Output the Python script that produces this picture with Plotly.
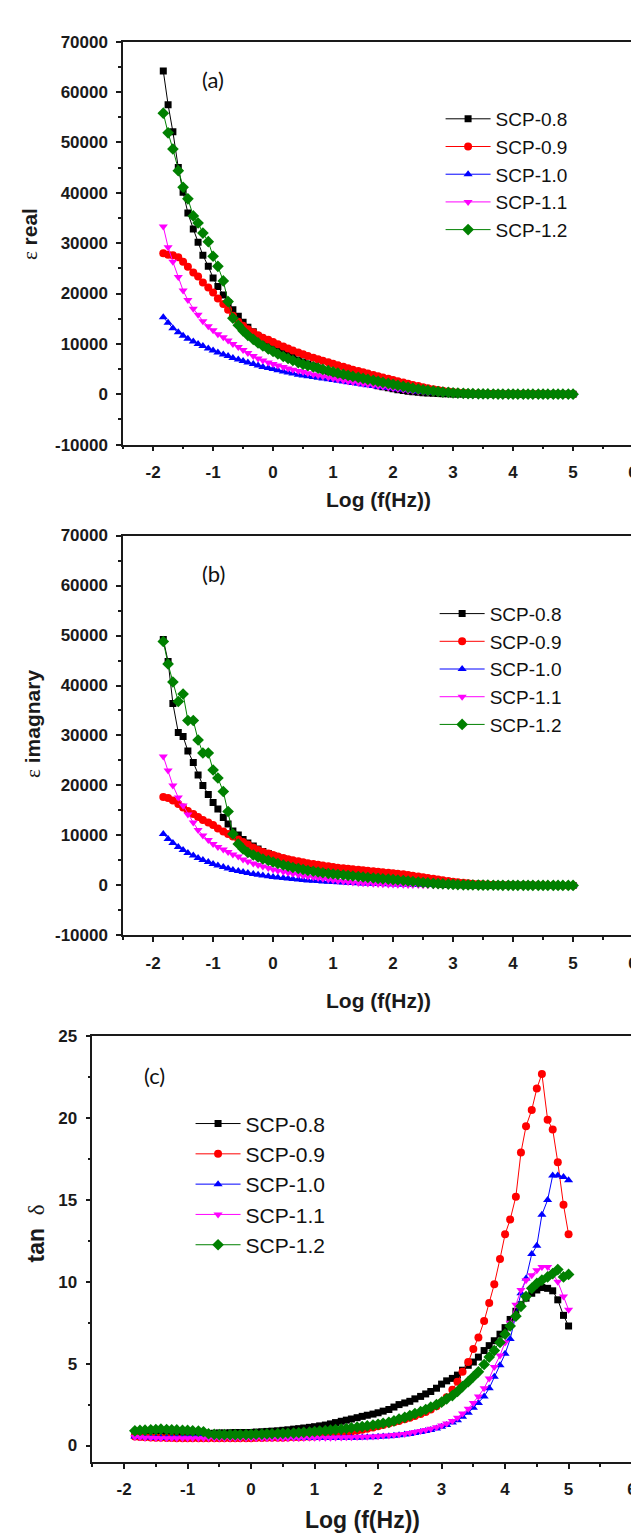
import plotly.graph_objects as go

# ---------------- data ----------------
log_f = [-1.83, -1.75, -1.67, -1.58, -1.50, -1.42, -1.33, -1.25, -1.17, -1.08, -1.00, -0.92, -0.83,
         -0.75, -0.67, -0.58, -0.50, -0.42, -0.33, -0.25, -0.17, -0.08,
         0.00, 0.08, 0.17, 0.25, 0.33, 0.42, 0.50, 0.58, 0.67, 0.75, 0.83, 0.92,
         1.00, 1.08, 1.17, 1.25, 1.33, 1.42, 1.50, 1.58, 1.67, 1.75, 1.83, 1.92,
         2.00, 2.08, 2.17, 2.25, 2.33, 2.42, 2.50, 2.58, 2.67, 2.75, 2.83, 2.92,
         3.00, 3.08, 3.17, 3.25, 3.33, 3.42, 3.50, 3.58, 3.67, 3.75, 3.83, 3.92,
         4.00, 4.08, 4.17, 4.25, 4.33, 4.42, 4.50, 4.58, 4.67, 4.75, 4.83, 4.92, 5.00]

series_names = ["SCP-0.8", "SCP-0.9", "SCP-1.0", "SCP-1.1", "SCP-1.2"]

# (a) real permittivity
eps_real_08 = [64200, 57500, 52100, 45000, 40100, 36000, 32800, 30200, 27600, 25400, 23100, 21400, 19700,
               18200, 16800, 15500, 14300, 13300, 12400, 11500, 10800, 10100,
               9500, 8900, 8300, 7800, 7300, 6800, 6400, 6000, 5600, 5200, 4800, 4500,
               4200, 3900, 3600, 3300, 3000, 2700, 2450, 2200, 1950, 1700, 1500, 1300,
               1100, 900, 750, 600, 480, 380, 300, 230, 180, 140, 110, 90,
               70, 60, 55, 50, 45, 40, 38, 35, 32, 30, 28, 26,
               24, 22, 20, 19, 18, 17, 16, 15, 14, 13, 12, 11, 10]
eps_real_09 = [28000, 27700, 27600, 27200, 26300, 25300, 24200, 23400, 22200, 21200, 20200, 19000, 17900,
               16800, 15600, 14400, 13600, 12900, 12300, 11700, 11200, 10800,
               10400, 9950, 9500, 9100, 8700, 8300, 7950, 7600, 7250, 6950, 6650, 6350,
               6050, 5750, 5450, 5150, 4850, 4600, 4350, 4100, 3850, 3600, 3350, 3100,
               2850, 2600, 2350, 2100, 1850, 1620, 1400, 1200, 1000, 830, 680, 550,
               440, 350, 280, 220, 175, 140, 115, 95, 85, 75, 68, 62,
               56, 50, 46, 42, 38, 35, 32, 29, 26, 24, 22, 20, 18]
eps_real_10 = [15300, 14200, 13100, 12300, 11600, 11000, 10500, 10000, 9600, 9100, 8700, 8300, 7900,
               7600, 7200, 6900, 6600, 6300, 6000, 5700, 5400, 5200,
               5000, 4750, 4500, 4300, 4100, 3900, 3750, 3600, 3450, 3300, 3150, 3000,
               2850, 2700, 2550, 2400, 2250, 2100, 1950, 1800, 1650, 1500, 1380, 1260,
               1140, 1020, 900, 780, 670, 570, 480, 400, 330, 270, 220, 180,
               145, 115, 95, 80, 65, 55, 48, 42, 38, 34, 30, 27,
               24, 22, 20, 18, 16, 15, 14, 13, 12, 11, 10, 9, 8]
eps_real_11 = [33300, 29200, 26300, 23300, 20600, 18700, 17000, 15800, 14500, 13500, 12700, 11900, 11300,
               10700, 10000, 9400, 8800, 8200, 7600, 7100, 6700, 6300,
               6000, 5700, 5400, 5100, 4850, 4600, 4400, 4150, 3950, 3750, 3550, 3350,
               3150, 2950, 2750, 2550, 2400, 2250, 2100, 1950, 1800, 1650, 1500, 1350,
               1200, 1050, 900, 770, 650, 540, 440, 350, 280, 220, 170, 130,
               100, 80, 65, 55, 47, 41, 36, 32, 28, 25, 22, 20,
               18, 16, 15, 14, 13, 12, 11, 10, 9, 9, 8, 8, 7]
eps_real_12 = [55800, 51900, 48700, 44400, 41100, 38800, 35400, 34000, 32000, 30300, 27400, 25400, 22500,
               18400, 15100, 13700, 12600, 11700, 10900, 10200, 9600, 9000,
               8500, 8000, 7500, 7100, 6700, 6300, 5950, 5700, 5450, 5200, 4950, 4700,
               4450, 4200, 3950, 3750, 3550, 3350, 3150, 2950, 2750, 2550, 2350, 2150,
               1950, 1750, 1560, 1380, 1210, 1050, 900, 770, 650, 540, 440, 360,
               290, 230, 180, 140, 110, 90, 75, 62, 52, 45, 40, 35,
               31, 28, 25, 22, 20, 18, 16, 15, 14, 13, 12, 11, 10]

# (b) imaginary permittivity
eps_imag_08 = [49200, 44800, 36400, 30600, 29800, 26900, 24600, 22100, 20000, 18200, 16600, 15300, 13600,
               12300, 10900, 10100, 9200, 8500, 7900, 7300, 6800, 6400,
               6000, 5650, 5350, 5050, 4800, 4550, 4300, 4100, 3900, 3700, 3520, 3350,
               3200, 3050, 2900, 2750, 2600, 2450, 2300, 2150, 2000, 1850, 1700, 1550,
               1400, 1250, 1100, 950, 820, 700, 590, 490, 400, 330, 270, 220,
               180, 150, 125, 105, 90, 78, 68, 60, 53, 47, 42, 38,
               34, 31, 28, 25, 23, 21, 19, 17, 16, 15, 14, 13, 12]
eps_imag_09 = [17700, 17500, 17000, 16300, 15600, 14900, 14300, 13700, 13100, 12600, 12100, 11400, 10800,
               10300, 9800, 9200, 8700, 8200, 7600, 7100, 6700, 6400,
               6100, 5800, 5500, 5250, 5050, 4850, 4650, 4450, 4300, 4150, 4000, 3850,
               3700, 3550, 3450, 3350, 3250, 3150, 3050, 2950, 2850, 2750, 2650, 2550,
               2450, 2350, 2250, 2100, 1950, 1800, 1650, 1500, 1350, 1200, 1050, 900,
               770, 650, 540, 450, 370, 300, 240, 190, 150, 120, 100, 85,
               72, 62, 54, 47, 41, 36, 32, 28, 25, 22, 20, 18, 16]
eps_imag_10 = [10300, 9300, 8500, 7700, 7100, 6500, 6000, 5500, 5100, 4700, 4300, 4000, 3700,
               3400, 3100, 2900, 2700, 2500, 2300, 2150, 2000, 1850,
               1700, 1600, 1500, 1400, 1300, 1200, 1100, 1020, 950, 880, 820, 760,
               700, 650, 600, 550, 500, 460, 420, 380, 350, 320, 290, 260,
               240, 220, 200, 180, 160, 140, 125, 110, 100, 90, 80, 72,
               65, 58, 52, 47, 42, 38, 34, 31, 28, 25, 23, 21,
               19, 17, 16, 15, 14, 13, 12, 11, 10, 9, 9, 8, 8]
eps_imag_11 = [25800, 23000, 20000, 17600, 16000, 14200, 12600, 11100, 10000, 9100, 8300, 7700, 7200,
               6700, 6200, 5800, 5200, 4800, 4400, 4100, 3800, 3500,
               3200, 2950, 2750, 2550, 2350, 2150, 1950, 1800, 1650, 1500, 1350, 1200,
               1050, 920, 800, 700, 600, 520, 450, 390, 340, 290, 250, 210,
               180, 150, 130, 110, 95, 82, 70, 60, 52, 45, 40, 35,
               31, 28, 25, 22, 20, 18, 16, 14, 13, 12, 11, 10,
               9, 9, 8, 8, 7, 7, 6, 6, 6, 5, 5, 5, 5]
eps_imag_12 = [48800, 44300, 40700, 36800, 38300, 33000, 33000, 29100, 26500, 26500, 23100, 21500, 18800,
               14800, 10300, 8300, 7300, 6600, 6100, 5700, 5300, 5000,
               4700, 4400, 4100, 3850, 3600, 3400, 3200, 3000, 2850, 2700, 2550, 2400,
               2300, 2200, 2100, 2000, 1900, 1800, 1700, 1600, 1500, 1420, 1340, 1260,
               1180, 1100, 1000, 900, 800, 700, 600, 520, 440, 370, 310, 260,
               210, 170, 140, 115, 95, 80, 68, 58, 50, 44, 39, 35,
               31, 28, 25, 22, 20, 18, 16, 15, 14, 13, 12, 11, 10]

# (c) loss tangent
tan_delta_08 = [0.80, 0.78, 0.77, 0.76, 0.75, 0.74, 0.73, 0.72, 0.72, 0.71, 0.71, 0.71, 0.72,
                0.73, 0.74, 0.75, 0.76, 0.77, 0.78, 0.79, 0.79, 0.80,
                0.80, 0.82, 0.84, 0.86, 0.88, 0.90, 0.93, 0.96, 1.00, 1.03, 1.07, 1.11,
                1.15, 1.20, 1.25, 1.32, 1.40, 1.48, 1.55, 1.62, 1.70, 1.78, 1.85, 1.92,
                2.00, 2.10, 2.20, 2.35, 2.50, 2.60, 2.70, 2.85, 3.00, 3.15, 3.30, 3.50,
                3.75, 3.95, 4.10, 4.30, 4.60, 4.90, 5.10, 5.40, 5.80, 6.10, 6.40, 6.80,
                7.20, 7.70, 8.20, 8.60, 9.00, 9.30, 9.50, 9.65, 9.60, 9.45, 8.90, 7.95, 7.30]
tan_delta_09 = [0.55, 0.52, 0.50, 0.49, 0.48, 0.47, 0.46, 0.46, 0.45, 0.45, 0.45, 0.45, 0.45,
                0.45, 0.45, 0.45, 0.45, 0.45, 0.45, 0.45, 0.45, 0.45,
                0.45, 0.46, 0.46, 0.47, 0.47, 0.48, 0.48, 0.49, 0.50, 0.51, 0.52, 0.53,
                0.55, 0.58, 0.62, 0.66, 0.70, 0.74, 0.79, 0.84, 0.90, 0.96, 1.03, 1.10,
                1.18, 1.26, 1.34, 1.42, 1.50, 1.60, 1.70, 1.80, 1.92, 2.05, 2.20, 2.40,
                2.65, 2.95, 3.40, 3.90, 4.50, 5.10, 5.90, 6.60, 7.60, 8.70, 9.85, 11.40,
                12.90, 13.80, 15.20, 17.90, 19.50, 20.50, 21.80, 22.70, 19.90, 19.30, 17.30, 14.70, 12.90]
tan_delta_10 = [0.55, 0.52, 0.50, 0.49, 0.48, 0.48, 0.48, 0.49, 0.50, 0.52, 0.54, 0.56, 0.58,
                0.60, 0.61, 0.62, 0.62, 0.62, 0.62, 0.61, 0.60, 0.59,
                0.58, 0.57, 0.56, 0.55, 0.54, 0.53, 0.52, 0.51, 0.50, 0.49, 0.48, 0.47,
                0.46, 0.46, 0.46, 0.46, 0.46, 0.47, 0.47, 0.48, 0.48, 0.49, 0.50, 0.51,
                0.53, 0.55, 0.57, 0.60, 0.63, 0.67, 0.71, 0.76, 0.82, 0.88, 0.95, 1.04,
                1.15, 1.25, 1.40, 1.55, 1.75, 2.00, 2.30, 2.60, 3.00, 3.50, 4.20, 4.90,
                5.60, 6.50, 8.00, 9.30, 10.20, 11.70, 12.20, 14.10, 15.00, 16.50, 16.50, 16.40, 16.20]
tan_delta_11 = [0.52, 0.50, 0.48, 0.47, 0.46, 0.45, 0.45, 0.44, 0.44, 0.44, 0.44, 0.44, 0.45,
                0.45, 0.45, 0.45, 0.45, 0.45, 0.45, 0.45, 0.45, 0.45,
                0.45, 0.45, 0.45, 0.45, 0.45, 0.45, 0.45, 0.45, 0.46, 0.46, 0.46, 0.47,
                0.47, 0.47, 0.48, 0.48, 0.49, 0.49, 0.50, 0.51, 0.52, 0.53, 0.54, 0.55,
                0.57, 0.59, 0.61, 0.64, 0.67, 0.71, 0.76, 0.82, 0.88, 0.95, 1.03, 1.12,
                1.22, 1.35, 1.50, 1.70, 1.95, 2.25, 2.60, 3.00, 3.50, 4.10, 4.80, 5.50,
                6.30, 7.50, 8.60, 9.50, 10.10, 10.40, 10.70, 10.90, 10.90, 10.50, 10.00, 9.10, 8.30]
tan_delta_12 = [0.90, 0.92, 0.94, 0.96, 0.98, 1.00, 0.98, 0.96, 0.95, 0.93, 0.92, 0.90, 0.88,
                0.84, 0.72, 0.68, 0.67, 0.66, 0.66, 0.66, 0.66, 0.67,
                0.68, 0.69, 0.70, 0.71, 0.72, 0.73, 0.74, 0.75, 0.76, 0.78, 0.80, 0.82,
                0.85, 0.88, 0.91, 0.94, 0.97, 1.00, 1.04, 1.08, 1.12, 1.16, 1.20, 1.25,
                1.30, 1.36, 1.42, 1.50, 1.62, 1.72, 1.83, 1.95, 2.07, 2.20, 2.34, 2.50,
                2.65, 2.85, 3.05, 3.30, 3.60, 3.90, 4.20, 4.50, 4.95, 5.40, 5.80, 6.30,
                6.80, 7.30, 7.90, 8.50, 9.10, 9.60, 9.90, 10.10, 10.30, 10.50, 10.75, 10.30, 10.45]

x_tick_vals = [-2, -1, 0, 1, 2, 3, 4, 5, 6]
x_tick_text = ["-2", "-1", "0", "1", "2", "3", "4", "5", "6"]
eps_tick_vals = [-10000, 0, 10000, 20000, 30000, 40000, 50000, 60000, 70000]
eps_tick_text = ["-10000", "0", "10000", "20000", "30000", "40000", "50000", "60000", "70000"]
tan_tick_vals = [0, 5, 10, 15, 20, 25]
tan_tick_text = ["0", "5", "10", "15", "20", "25"]

# ---------------- style ----------------
colors = ["#000000", "#FF0000", "#0000FF", "#FF00FF", "#008000"]
symbols = ["square", "circle", "triangle-up", "triangle-down", "diamond"]
msizes = [7, 8, 8, 8, 9]

W, H = 639, 1535
AX = "#1a1a1a"

def px_x(p):
    return p / W

def px_y(p):
    return 1 - p / H

panels = [
    dict(ys=[eps_real_08, eps_real_09, eps_real_10, eps_real_11, eps_real_12],
         xa="x", ya="y", leg="legend"),
    dict(ys=[eps_imag_08, eps_imag_09, eps_imag_10, eps_imag_11, eps_imag_12],
         xa="x2", ya="y2", leg="legend2"),
    dict(ys=[tan_delta_08, tan_delta_09, tan_delta_10, tan_delta_11, tan_delta_12],
         xa="x3", ya="y3", leg="legend3"),
]

fig = go.Figure()
for p in panels:
    for i, ys in enumerate(p["ys"]):
        assert len(ys) == len(log_f), (series_names[i], len(ys))
        fig.add_trace(go.Scatter(
            x=log_f, y=ys, name=series_names[i], mode="lines+markers",
            xaxis=p["xa"], yaxis=p["ya"], legend=p["leg"],
            line=dict(color=colors[i], width=1),
            marker=dict(symbol=symbols[i], size=msizes[i], color=colors[i], line=dict(width=0)),
        ))

tick_font = dict(family="Liberation Sans", size=17, color=AX, weight="bold")

def xaxis_cfg(dom, anchor):
    return dict(domain=dom, anchor=anchor, range=[-2.5, 6],
                tickmode="array", tickvals=x_tick_vals, ticktext=x_tick_text,
                ticks="outside", ticklen=5, tickwidth=1.5, tickcolor=AX,
                showline=True, linewidth=1.5, linecolor=AX, mirror=True,
                showgrid=False, zeroline=False, tickfont=tick_font, ticklabelstandoff=6,
                ticklabeloverflow="allow",
                minor=dict(ticks="outside", ticklen=3, tickwidth=1.5, tickcolor=AX,
                           tickmode="linear", tick0=-2.5, dtick=0.5, showgrid=False))

def yaxis_cfg(dom, anchor, rng, tv, tt, mdt):
    return dict(domain=dom, anchor=anchor, range=rng,
                tickmode="array", tickvals=tv, ticktext=tt,
                ticks="outside", ticklen=5, tickwidth=1.5, tickcolor=AX,
                showline=True, linewidth=1.5, linecolor=AX, mirror=True,
                showgrid=False, zeroline=False, tickfont=tick_font, ticklabelstandoff=5,
                ticklabeloverflow="allow",
                minor=dict(ticks="outside", ticklen=3, tickwidth=1.5, tickcolor=AX,
                           tickmode="linear", tick0=tv[0], dtick=mdt, showgrid=False))

xa_dom = [px_x(116), px_x(630)]
xc_dom = [px_x(85), px_x(629)]
ya_dom = [px_y(433), px_y(25)]
yb_dom = [px_y(930), px_y(525)]
yc_dom = [px_y(1463), px_y(1032)]

leg_font_ab = dict(family="Liberation Sans", size=19, color="#111")
leg_font_c = dict(family="Liberation Sans", size=21, color="#111")

def legend_cfg(xp, yp, font):
    return dict(x=px_x(xp), y=px_y(yp), xanchor="left", yanchor="top",
                bgcolor="rgba(0,0,0,0)", borderwidth=0, itemwidth=45,
                font=font, tracegroupgap=0)

title_font = dict(family="Liberation Sans", size=21, color=AX, weight="bold")
title_font_c = dict(family="Liberation Sans", size=23, color=AX, weight="bold")

def paper_note(text, xp, yp, font, angle=0):
    return dict(text=text, x=px_x(xp), y=px_y(yp), xref="paper", yref="paper",
                xanchor="center", yanchor="middle", textangle=angle,
                showarrow=False, font=font)

eps_html = "<span style='font-family:Liberation Serif;font-weight:normal'>ε</span>"
delta_html = "<span style='font-family:Liberation Serif;font-weight:normal'>δ</span>"
tag_font = dict(family="Lato", size=22, color="#111")

annotations = [
    # panel tags
    dict(text="(a)", x=-1.0, y=62500, xref="x", yref="y", showarrow=False,
         xanchor="center", yanchor="middle", font=tag_font),
    dict(text="(b)", x=-1.0, y=62500, xref="x2", yref="y2", showarrow=False,
         xanchor="center", yanchor="middle", font=tag_font),
    dict(text="(c)", x=-1.52, y=22.6, xref="x3", yref="y3", showarrow=False,
         xanchor="center", yanchor="middle", font=tag_font),
    # axis titles
    paper_note("Log (f(Hz))", 373, 489, title_font),
    paper_note("Log (f(Hz))", 373, 996, title_font),
    paper_note("Log (f(Hz))", 357, 1522, title_font_c),
    paper_note(eps_html + " real", 22, 220, title_font, -90),
    paper_note(eps_html + " imagnary", 25, 716, title_font, -90),
    paper_note("tan  " + delta_html, 28, 1232, title_font_c, -90),
]

fig.update_layout(
    width=W, height=H, autosize=False,
    margin=dict(l=0, r=0, t=0, b=0),
    paper_bgcolor="white", plot_bgcolor="white",
    xaxis=xaxis_cfg(xa_dom, "y"),
    yaxis=yaxis_cfg(ya_dom, "x", [-10000, 70000], eps_tick_vals, eps_tick_text, 5000),
    xaxis2=xaxis_cfg(xa_dom, "y2"),
    yaxis2=yaxis_cfg(yb_dom, "x2", [-10000, 70000], eps_tick_vals, eps_tick_text, 5000),
    xaxis3=xaxis_cfg(xc_dom, "y3"),
    yaxis3=yaxis_cfg(yc_dom, "x3", [-1, 25], tan_tick_vals, tan_tick_text, 2.5),
    legend=legend_cfg(436, 84, leg_font_ab),
    legend2=legend_cfg(430, 585, leg_font_ab),
    legend3=legend_cfg(184, 1100, leg_font_c),
    annotations=annotations,
    showlegend=True,
)

fig.write_html("out.html")
